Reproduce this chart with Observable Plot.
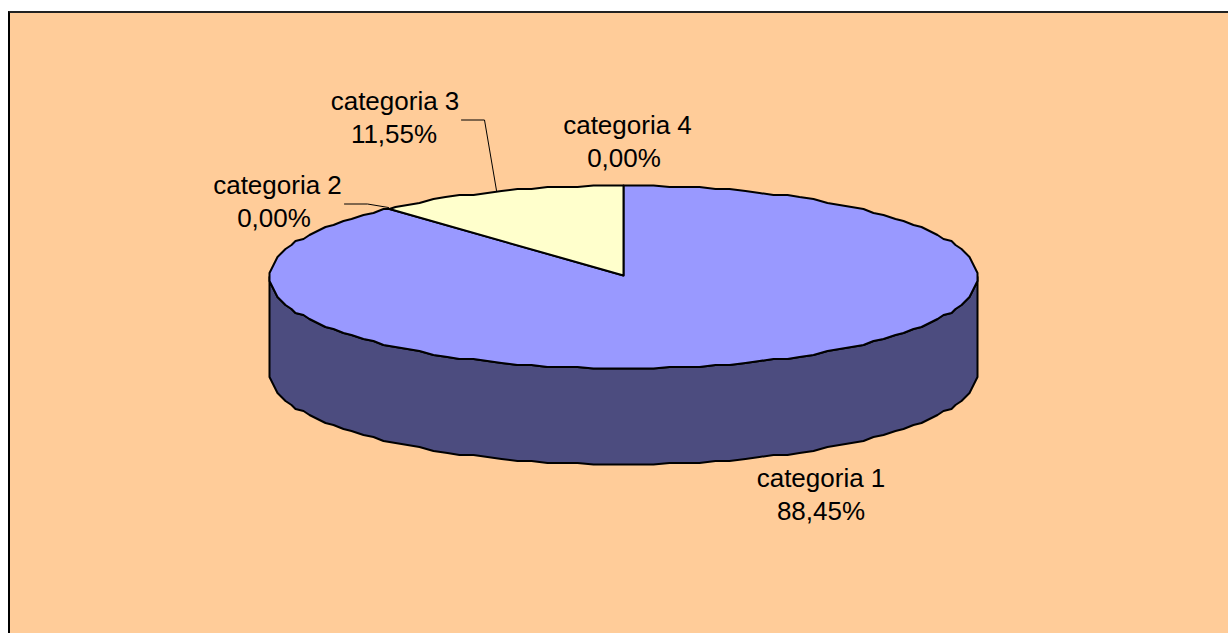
<!DOCTYPE html>
<html>
<head>
<meta charset="utf-8">
<script src="https://cdn.jsdelivr.net/npm/d3@7"></script>
<script src="https://cdn.jsdelivr.net/npm/@observablehq/plot@0.6"></script>
<style>
  html, body { margin: 0; padding: 0; background: #fff; overflow: hidden; width: 1228px; height: 633px; }
  #panel { position: absolute; left: 8px; top: 11px; right: 0; bottom: 0; background: #FFCC99;
           border-left: 2px solid #000; border-top: 2px solid #222; }
  #chart { position: absolute; left: 0; top: 0; }
</style>
</head>
<body>
<div id="panel"></div>
<div id="chart"></div>
<script>
// Data
const categories = ["categoria 1", "categoria 2", "categoria 3", "categoria 4"];
const shares = [88.45, 0.00, 11.55, 0.00];

// Styling and layout (kept apart from the data)
const sliceColors = ["#9999FF", "#993366", "#FFFFCC", "#CCFFFF"];
const wallColor = "#4C4C7F";
const cx = 623, cy = 276.5, rx = 354, ry = 91.5, depthPx = 96;
const nameCenters = [[820.5, 478], [277, 185], [394.5, 101], [627, 125]];
const valueCenters = [[820.5, 511], [273.5, 218], [393.5, 134], [623.5, 158]];
const leaders = [
  {cat: "categoria 2", px: [[344, 203.5], [367, 203.5], [388, 207]]},
  {cat: "categoria 3", px: [[461, 119.5], [484, 119.5], [496, 190]]}
];
const gridPx = 2; // the original drawing's coarse device grid

// Pixel layout -> unit-disc coordinates used by the scales
const ux = (px) => (px - cx) / rx;
const uy = (py) => (cy - py) / ry;
const depth = depthPx / ry;
const step = Math.PI / 72;

// Arc samples sit on a fixed angular lattice so that shared edges coincide
const arc = (a0, a1) => {
  const inner = [];
  for (let k = Math.floor(a0 / step) + 1; k * step < a1 - 1e-9; ++k) inner.push(k * step);
  return [a0, ...inner, a1];
};
const snap = (u, r) => Math.max(-1, Math.min(1, Math.round(u * r / gridPx) * gridPx / r));
const onRim = (a, dz = 0) => ({x: snap(Math.sin(a), rx), y: snap(Math.cos(a), ry) - dz});

// Slices from cumulative shares, clockwise from 12 o'clock
const total = d3.sum(shares);
let cum = 0;
const slices = shares.map((v, i) => {
  const a0 = cum / total * 2 * Math.PI;
  cum += v;
  const a1 = cum / total * 2 * Math.PI;
  return {i, v, a0, a1};
});

const apex = {x: 0, y: uy(275)};
const slicePath = (s) => {
  const rim = arc(s.a0, s.a1).map((a) => onRim(a));
  return [apex, ...rim, apex];
};

// Visible front wall of the pie
const frontTop = arc(Math.PI / 2, 3 * Math.PI / 2).map((a) => onRim(a));
const frontBottom = arc(Math.PI / 2, 3 * Math.PI / 2).reverse().map((a) => onRim(a, depth));
const wall = [...frontTop, ...frontBottom, frontTop[0]];

const fmt = (v) => v.toFixed(2).replace(".", ",") + "%";
const nameLabels = categories.map((c, i) => ({text: c, x: ux(nameCenters[i][0]), y: uy(nameCenters[i][1])}));
const valueLabels = shares.map((v, i) => ({text: fmt(v), x: ux(valueCenters[i][0]), y: uy(valueCenters[i][1])}));

const lineStyle = {x: "x", y: "y", stroke: "#000", strokeWidth: 2, strokeLinejoin: "round"};
const textStyle = {
  x: "x", y: "y", text: "text",
  fontFamily: "'Liberation Sans', Arial, sans-serif",
  fontSize: 26, fill: "#000", textAnchor: "middle", lineAnchor: "middle"
};

const plot = Plot.plot({
  width: 1228,
  height: 633,
  margin: 0,
  style: {background: "transparent"},
  x: {domain: [-1, 1], range: [cx - rx, cx + rx], axis: null},
  y: {domain: [-1, 1], range: [cy + ry, cy - ry], axis: null},
  marks: [
    Plot.line(wall, {...lineStyle, fill: wallColor}),
    ...slices.filter((s) => s.v > 0).map((s) =>
      Plot.line(slicePath(s), {...lineStyle, fill: sliceColors[s.i]})
    ),
    ...leaders.map((l) =>
      Plot.line(l.px.map(([px, py]) => ({x: ux(px), y: uy(py)})), {x: "x", y: "y", stroke: "#000", strokeWidth: 1})
    ),
    Plot.text(nameLabels, textStyle),
    Plot.text(valueLabels, textStyle)
  ]
});
document.getElementById("chart").append(plot);
</script>
</body>
</html>
